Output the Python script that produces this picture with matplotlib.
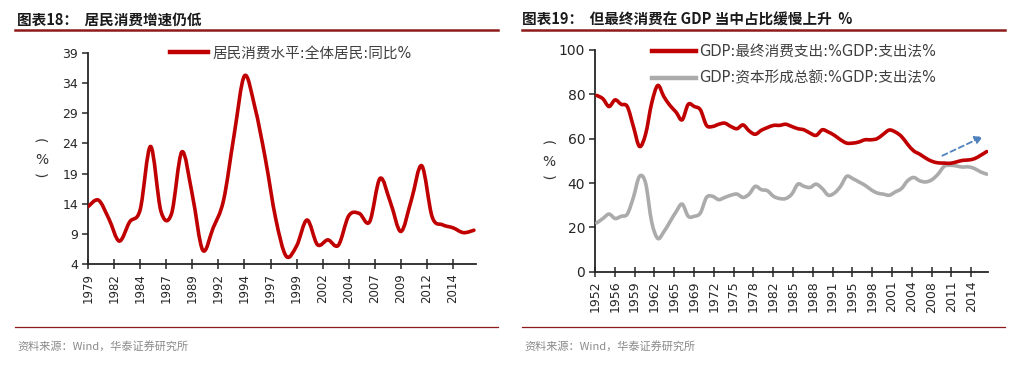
import matplotlib
matplotlib.use("Agg")
import matplotlib.pyplot as plt
import numpy as np
from matplotlib.lines import Line2D
from matplotlib.patches import PathPatch
from matplotlib.path import Path

plt.rcParams["font.family"] = ["DejaVu Sans", "Noto Sans CJK SC"]

# ---- left panel: household consumption growth, annual ----
years_left = list(range(1979, 2017))
consumption_yoy = [
    13.5, 14.6, 11.5, 7.8, 11.0, 13.0, 23.5, 12.7, 12.3, 22.6,
    15.5, 6.3, 10.0, 14.6, 25.3, 35.2, 30.0, 21.5, 11.5, 5.3,
    7.0, 11.3, 7.2, 8.0, 7.1, 12.0, 12.4, 11.0, 18.2, 14.2,
    9.4, 14.6, 20.3, 11.8, 10.5, 10.0, 9.2, 9.6,
]
left_ticklabels = ["1979", "1982", "1984", "1987", "1989", "1992", "1994", "1997",
                   "1999", "2002", "2004", "2007", "2009", "2012", "2014"]
left_yticks = [4, 9, 14, 19, 24, 29, 34, 39]

# ---- right panel: consumption / capital formation share of GDP ----
years_right = list(range(1952, 2017))
final_consumption = [
    79.5, 78.0, 74.5, 77.5, 75.5, 74.5, 65.5, 56.5, 62.0, 76.0,
    84.0, 79.0, 75.0, 72.0, 68.5, 75.5, 74.5, 73.0, 66.0, 65.5,
    66.5, 67.0, 65.5, 64.5, 66.2, 63.5, 62.0, 63.8, 65.0, 66.0,
    66.0, 66.5, 65.5, 64.5, 64.0, 62.5, 61.5, 64.0, 63.0, 61.5,
    59.5, 58.0, 58.0, 58.5, 59.5, 59.5, 60.0, 62.0, 63.9, 63.0,
    61.0, 57.5, 54.5, 53.0, 51.2, 49.8, 49.1, 49.0, 48.9, 49.5,
    50.2, 50.4, 51.0, 52.5, 54.2,
]
capital_formation = [
    22.0, 24.0, 26.0, 24.0, 25.0, 26.0, 33.5, 43.0, 40.0, 22.5,
    15.0, 18.0, 22.5, 27.0, 30.5, 25.0, 25.0, 26.5, 33.5, 34.0,
    32.5, 33.5, 34.5, 35.0, 33.5, 35.0, 38.5, 37.0, 36.5, 34.0,
    33.0, 33.0, 35.0, 39.5, 38.5, 38.0, 39.5, 37.5, 34.5, 35.5,
    38.5, 43.0, 42.0, 40.5, 39.0, 37.0, 35.5, 35.0, 34.5, 36.0,
    37.5, 41.0, 42.5, 41.0, 40.5, 41.5, 44.0, 47.5, 48.0, 47.7,
    47.2, 47.3, 46.5, 45.0, 44.0,
]
right_ticklabels = ["1952", "1956", "1959", "1962", "1965", "1969", "1972", "1975",
                    "1978", "1982", "1985", "1988", "1991", "1995", "1998", "2001",
                    "2004", "2008", "2011", "2014"]
right_yticks = [0, 20, 40, 60, 80, 100]
trend_arrow = [(2008.3, 51.8), (2015.8, 61.5)]

RED = "#C00000"
GREY = "#ABABAB"
RULE = "#8E1B1B"
CJK = ["Noto Sans CJK SC", "DejaVu Sans"]


def smooth_path(x, y):
    # Excel-style smoothed line: cubic bezier through every point
    x = np.asarray(x, float)
    y = np.asarray(y, float)
    n = len(x)
    verts = [(x[0], y[0])]
    codes = [Path.MOVETO]
    for i in range(n - 1):
        a = max(i - 1, 0)
        d = min(i + 2, n - 1)
        c1 = (x[i] + (x[i + 1] - x[a]) / 6, y[i] + (y[i + 1] - y[a]) / 6)
        c2 = (x[i + 1] - (x[d] - x[i]) / 6, y[i + 1] - (y[d] - y[i]) / 6)
        verts += [c1, c2, (x[i + 1], y[i + 1])]
        codes += [Path.CURVE4] * 3
    return Path(verts, codes)


def draw_series(ax, x, y, color, lw):
    patch = PathPatch(smooth_path(x, y), facecolor="none", edgecolor=color, lw=lw,
                      capstyle="round", joinstyle="round", zorder=3)
    ax.add_patch(patch)


def style_axes(ax, xtick_size, ytick_size):
    for side in ("top", "right"):
        ax.spines[side].set_visible(False)
    for side in ("left", "bottom"):
        ax.spines[side].set_color("#262626")
        ax.spines[side].set_linewidth(1.3)
    ax.tick_params(axis="y", direction="out", length=4, width=1.1, labelsize=ytick_size,
                   colors="#262626", pad=3)
    ax.tick_params(axis="x", direction="inout", length=7, width=1.1, labelsize=xtick_size,
                   colors="#262626", rotation=90, pad=3)


def unit_label(x, y):
    # "(%)" written vertically: arched brackets above and below
    fig.text((x - 2) / 1010, 1 - (y - 19) / 366, "(", fontsize=10, rotation=-90,
             ha="center", va="center", color="#333333")
    fig.text(x / 1010, 1 - y / 366, "%", fontsize=10, ha="center", va="center",
             color="#333333")
    fig.text((x - 2) / 1010, 1 - (y + 16) / 366, ")", fontsize=10, rotation=-90,
             ha="center", va="center", color="#333333")


fig = plt.figure(figsize=(10.1, 3.66), dpi=100)

# left chart
ax1 = fig.add_axes([88 / 1010, 1 - 264 / 366, 388 / 1010, 211 / 366])
draw_series(ax1, years_left, consumption_yoy, RED, 2.6)
ax1.set_xlim(1979, 2016.2)
ax1.set_ylim(4, 39)
ax1.set_yticks(left_yticks)
ax1.set_xticks([1979 + 2.5 * k for k in range(len(left_ticklabels))])
ax1.set_xticklabels(left_ticklabels)
style_axes(ax1, 8.5, 9)

# right chart
ax2 = fig.add_axes([595 / 1010, 1 - 271.7 / 366, 393 / 1010, 221.7 / 366])
draw_series(ax2, years_right, capital_formation, GREY, 2.6)
draw_series(ax2, years_right, final_consumption, RED, 2.6)
ax2.set_xlim(1951.7, 2016.2)
ax2.set_ylim(0, 100)
ax2.set_yticks(right_yticks)
ax2.set_xticks([1951.7 + 3.25 * k for k in range(len(right_ticklabels))])
ax2.set_xticklabels(right_ticklabels)
style_axes(ax2, 9, 10)
ax2.annotate("", xy=trend_arrow[1], xytext=trend_arrow[0],
             arrowprops=dict(arrowstyle="-|>", color="#4F81BD", lw=1.3, ls=(0, (3, 2)),
                             mutation_scale=12), zorder=4)

# legends
fig.legend(handles=[Line2D([], [], color=RED, lw=3.2)],
           labels=["居民消费水平:全体居民:同比%"], loc="center left",
           bbox_to_anchor=(170 / 1010, 1 - 53 / 366), frameon=False, fontsize=10.5,
           handlelength=2.6, handletextpad=0.3, borderpad=0, borderaxespad=0,
           labelcolor="#404040")
fig.legend(handles=[Line2D([], [], color=RED, lw=3.2), Line2D([], [], color=GREY, lw=3.2)],
           labels=["GDP:最终消费支出:%GDP:支出法%", "GDP:资本形成总额:%GDP:支出法%"],
           loc="upper left", bbox_to_anchor=(652 / 1010, 1 - 44 / 366), frameon=False,
           fontsize=10.5, handlelength=3.0, handletextpad=0.2, labelspacing=0.8,
           borderpad=0, borderaxespad=0, labelcolor="#404040")

# vertical unit labels
unit_label(41.5, 160)
unit_label(549, 162)

# titles, rules and sources
fig.text(17 / 1010, 1 - 20 / 366, "图表18：  居民消费增速仍低", family=CJK, fontsize=10.5,
         fontweight="bold", ha="left", va="center", color="#1a1a1a")
fig.text(522 / 1010, 1 - 20 / 366, "图表19：  但最终消费在 GDP 当中占比缓慢上升  %",
         family=CJK, fontsize=10.5, fontweight="bold", ha="left", va="center", color="#1a1a1a")
for x0, x1 in ((15, 498), (522, 1005)):
    fig.add_artist(Line2D([x0 / 1010, x1 / 1010], [1 - 30 / 366] * 2, color=RULE, lw=1.8))
    fig.add_artist(Line2D([x0 / 1010, x1 / 1010], [1 - 327 / 366] * 2, color=RULE, lw=0.9))
    fig.text((x0 + 2) / 1010, 1 - 346 / 366, "资料来源：Wind，华泰证券研究所", family=CJK,
             fontsize=8, ha="left", va="center", color="#8a8a8a")

fig.savefig("out.png", dpi=100, facecolor="white")
